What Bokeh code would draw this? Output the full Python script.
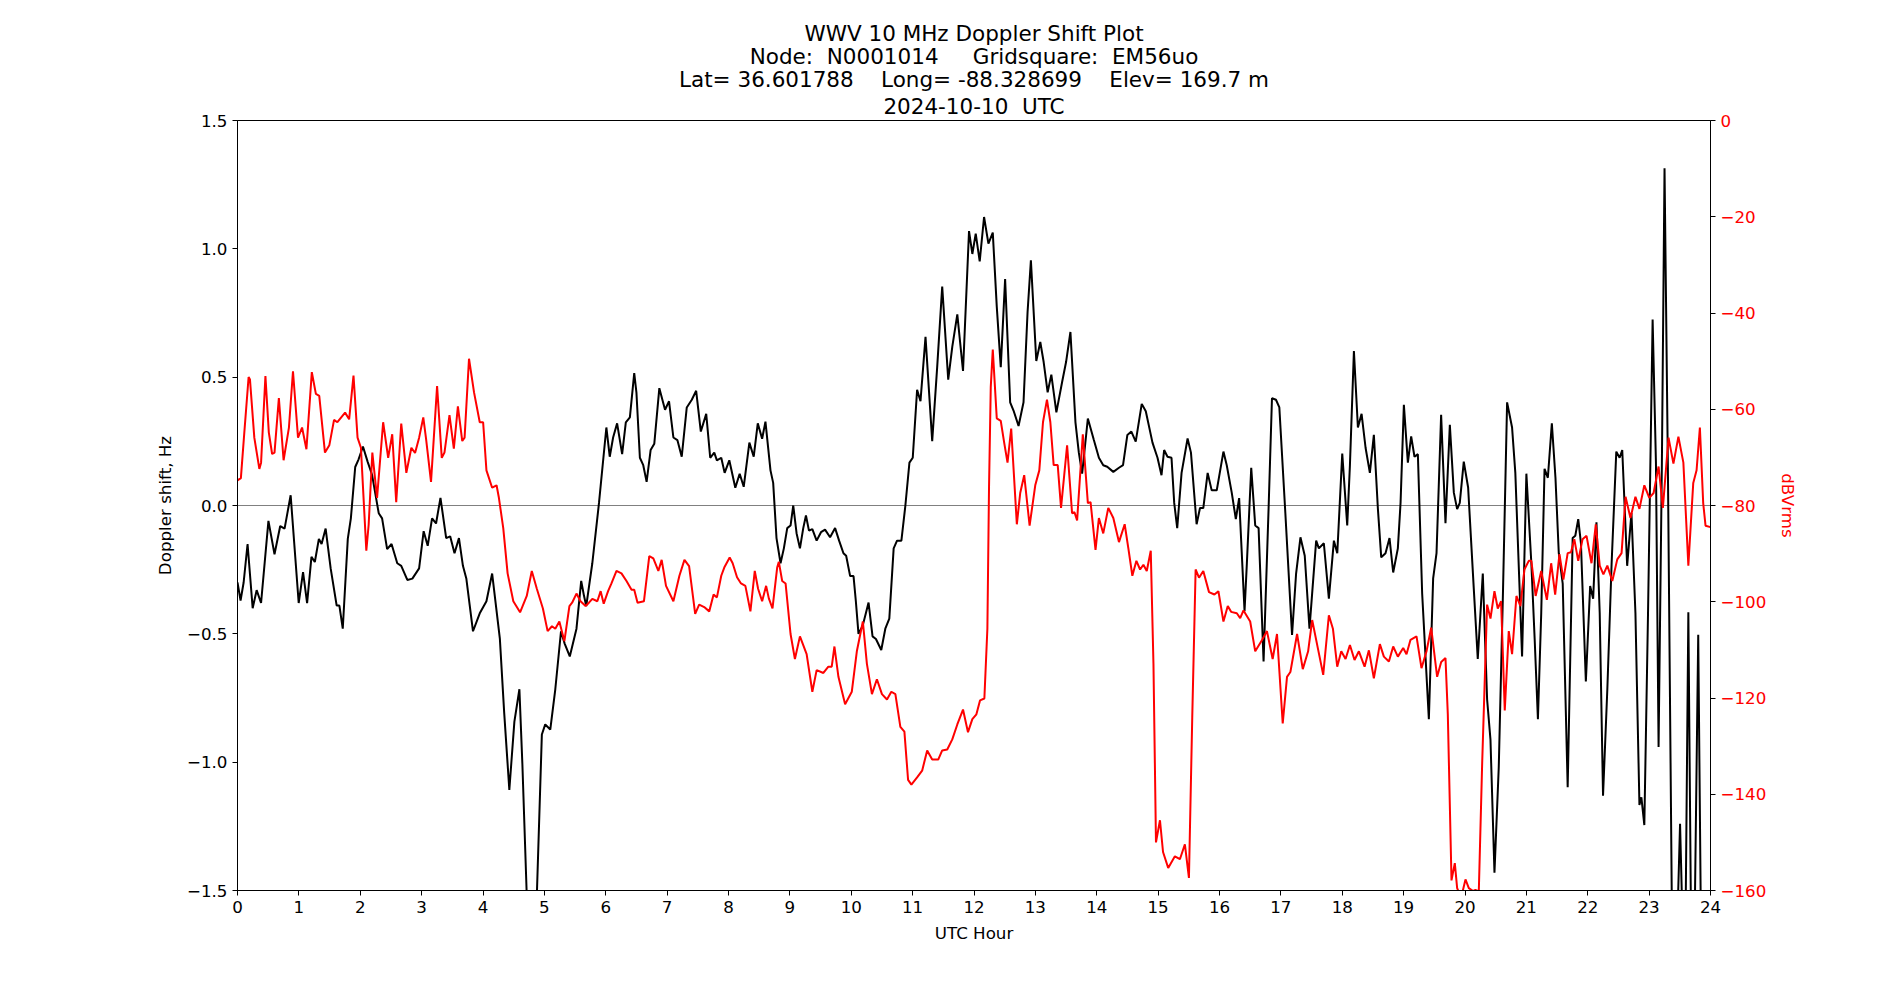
from bokeh.plotting import figure
from bokeh.models import (Range1d, LinearAxis, FixedTicker, CustomJSTickFormatter,
                          Span, Title)
from bokeh.embed import file_html
from bokeh.resources import INLINE

# Doppler shift trace (Hz) versus UTC hour
doppler_hour = [
    0.0, 0.05, 0.10, 0.164, 0.247, 0.312, 0.384, 0.504, 0.603, 0.696, 0.767, 0.866,
    0.997, 1.068, 1.134, 1.205, 1.26, 1.326, 1.37, 1.436, 1.518, 1.616, 1.66, 1.715,
    1.797, 1.847, 1.918, 1.973, 2.044, 2.121, 2.192, 2.301, 2.356, 2.438, 2.51, 2.603,
    2.668, 2.767, 2.849, 2.959, 3.033, 3.099, 3.17, 3.235, 3.307, 3.40, 3.465, 3.536,
    3.608, 3.673, 3.728, 3.837, 3.947, 4.056, 4.149, 4.275, 4.346, 4.429, 4.511, 4.593,
    4.642, 4.713, 4.795, 4.877, 4.959, 5.014, 5.096, 5.178, 5.271, 5.332, 5.414, 5.523,
    5.60, 5.644, 5.682, 5.781, 5.89, 6.01, 6.065, 6.12, 6.185, 6.267, 6.327, 6.393,
    6.464, 6.50, 6.556, 6.611, 6.666, 6.731, 6.791, 6.873, 6.966, 7.031, 7.102, 7.167,
    7.238, 7.32, 7.402, 7.473, 7.549, 7.637, 7.702, 7.768, 7.811, 7.882, 7.937, 8.013,
    8.111, 8.182, 8.248, 8.34, 8.411, 8.477, 8.548, 8.602, 8.684, 8.728, 8.782, 8.848,
    8.902, 8.957, 9.011, 9.055, 9.109, 9.164, 9.218, 9.262, 9.311, 9.366, 9.436, 9.507,
    9.573, 9.655, 9.737, 9.802, 9.873, 9.917, 9.982, 10.037, 10.075, 10.118, 10.184,
    10.238, 10.282, 10.347, 10.402, 10.489, 10.555, 10.62, 10.691, 10.746, 10.817,
    10.882, 10.948, 11.002, 11.073, 11.128, 11.21, 11.319, 11.40, 11.482, 11.58, 11.646,
    11.728, 11.821, 11.919, 11.973, 12.028, 12.093, 12.164, 12.235, 12.306, 12.371,
    12.436, 12.507, 12.589, 12.644, 12.726, 12.807, 12.873, 12.927, 13.015, 13.08,
    13.135, 13.20, 13.26, 13.342, 13.435, 13.50, 13.571, 13.653, 13.708, 13.762, 13.855,
    13.953, 14.035, 14.106, 14.171, 14.27, 14.362, 14.428, 14.499, 14.564, 14.635,
    14.733, 14.799, 14.908, 14.99, 15.055, 15.098, 15.153, 15.218, 15.262, 15.311,
    15.382, 15.48, 15.535, 15.627, 15.682, 15.736, 15.807, 15.873, 15.955, 16.064,
    16.118, 16.20, 16.266, 16.32, 16.408, 16.446, 16.517, 16.582, 16.637, 16.718, 16.80,
    16.855, 16.92, 16.975, 17.073, 17.182, 17.248, 17.319, 17.389, 17.466, 17.575,
    17.619, 17.70, 17.782, 17.864, 17.919, 18.0, 18.081, 18.125, 18.19, 18.255, 18.315,
    18.38, 18.45, 18.515, 18.58, 18.635, 18.705, 18.77, 18.83, 18.906, 18.95, 19.004,
    19.069, 19.123, 19.177, 19.232, 19.302, 19.411, 19.481, 19.536, 19.611, 19.682,
    19.753, 19.818, 19.872, 19.915, 19.98, 20.051, 20.143, 20.208, 20.29, 20.36, 20.415,
    20.48, 20.55, 20.62, 20.686, 20.767, 20.82, 20.93, 21.0, 21.081, 21.135, 21.188,
    21.242, 21.296, 21.35, 21.415, 21.474, 21.528, 21.592, 21.673, 21.754, 21.797,
    21.845, 21.889, 21.969, 22.039, 22.088, 22.142, 22.195, 22.249, 22.319, 22.389,
    22.465, 22.519, 22.562, 22.642, 22.712, 22.777, 22.842, 22.874, 22.922, 22.982,
    23.057, 23.111, 23.154, 23.208, 23.251, 23.305, 23.369, 23.434, 23.504, 23.542,
    23.585, 23.639, 23.682, 23.73, 23.80, 23.843, 23.88,
]
doppler_hz = [
    -0.30, -0.37, -0.30, -0.15, -0.40, -0.33, -0.38, -0.06, -0.19, -0.08, -0.09, 0.04,
    -0.38, -0.26, -0.38, -0.20, -0.22, -0.13, -0.15, -0.09, -0.245, -0.39, -0.39, -0.48,
    -0.13, -0.05, 0.15, 0.18, 0.23, 0.17, 0.12, -0.03, -0.05, -0.17, -0.15, -0.225,
    -0.235, -0.29, -0.285, -0.245, -0.10, -0.157, -0.05, -0.07, 0.03, -0.127, -0.12, -0.186,
    -0.127, -0.235, -0.284, -0.49, -0.42, -0.373, -0.265, -0.52, -0.81, -1.108, -0.843, -0.716,
    -1.01, -1.52, -1.90, -1.52, -0.892, -0.853, -0.873, -0.716, -0.49, -0.539, -0.588, -0.48,
    -0.294, -0.35, -0.392, -0.225, 0.01, 0.304, 0.19, 0.265, 0.32, 0.20, 0.324, 0.343,
    0.516, 0.44, 0.186, 0.157, 0.092, 0.216, 0.241, 0.457, 0.373, 0.406, 0.265, 0.255,
    0.19, 0.382, 0.412, 0.447, 0.288, 0.357, 0.186, 0.206, 0.176, 0.186, 0.127, 0.176,
    0.069, 0.124, 0.073, 0.245, 0.19, 0.32, 0.26, 0.327, 0.137, 0.088, -0.127, -0.225,
    -0.167, -0.088, -0.078, 0.0, -0.108, -0.167, -0.088, -0.039, -0.098, -0.092, -0.137, -0.104,
    -0.094, -0.124, -0.088, -0.137, -0.186, -0.196, -0.275, -0.275, -0.373, -0.50, -0.47,
    -0.42, -0.378, -0.51, -0.52, -0.563, -0.48, -0.441, -0.167, -0.137, -0.137,
    0.0, 0.167, 0.186, 0.451, 0.406, 0.657, 0.251, 0.539, 0.853, 0.49, 0.618,
    0.745, 0.524, 1.069, 0.98, 1.059, 0.951, 1.124, 1.02, 1.063, 0.775,
    0.539, 0.882, 0.402, 0.37, 0.31, 0.402, 0.755, 0.955, 0.563, 0.637,
    0.559, 0.441, 0.51, 0.363, 0.48, 0.559, 0.676, 0.324, 0.206, 0.124, 0.339,
    0.255, 0.186, 0.157, 0.151, 0.131, 0.147, 0.157, 0.275, 0.288, 0.249,
    0.396, 0.367, 0.245, 0.186, 0.118, 0.216, 0.19, 0.186, 0.01, -0.088,
    0.127, 0.261, 0.206, -0.073, -0.01, -0.01, 0.127, 0.059, 0.059, 0.21,
    0.157, 0.049, -0.053, 0.029, -0.412, -0.225, 0.147, -0.078, -0.088, -0.608, -0.01,
    0.418, 0.412, 0.382, -0.03, -0.504, -0.265, -0.124, -0.196, -0.48, -0.137,
    -0.167, -0.147, -0.363, -0.137, -0.186, 0.202, -0.078, 0.157, 0.602, 0.304, 0.357,
    0.225, 0.127, 0.275, -0.01, -0.202, -0.186, -0.127, -0.261, -0.167, 0.01, 0.392,
    0.167, 0.269, 0.19, 0.20, -0.343, -0.833, -0.284, -0.186, 0.353, -0.069,
    0.314, 0.05, -0.014, 0.01, 0.171, 0.07, -0.324, -0.598, -0.265, -0.755, -0.912,
    -1.431, -1.02, -0.324, 0.402, 0.304, 0.127, -0.588, 0.124, -0.225, -0.52, -0.833,
    -0.42, 0.143, 0.108, 0.32, 0.108, -0.186, -0.304, -1.098, -0.127, -0.118,
    -0.053, -0.147, -0.686, -0.314, -0.363, -0.065, -0.42, -1.131, -0.716, -0.225,
    0.21, 0.186, 0.216, -0.235, -0.029, -0.42, -1.167, -1.137, -1.245, -0.42,
    0.725, 0.167, -0.941, 0.167, 1.314, 0.167, -1.52, -1.85, -1.24, -1.60,
    -1.85, -0.416, -1.60, -1.85, -0.504, -1.60, -1.85,
]

# Received signal level (dBVrms) versus UTC hour
signal_hour = [
    0.0, 0.055, 0.11, 0.181, 0.203, 0.274, 0.356, 0.384, 0.455, 0.51, 0.564, 0.603,
    0.674, 0.751, 0.838, 0.904, 0.986, 1.052, 1.123, 1.211, 1.277, 1.332, 1.425, 1.496,
    1.573, 1.627, 1.753, 1.819, 1.89, 1.956, 2.011, 2.099, 2.137, 2.197, 2.274, 2.373,
    2.455, 2.521, 2.586, 2.668, 2.751, 2.833, 2.893, 2.959, 3.027, 3.071, 3.153, 3.252,
    3.328, 3.372, 3.454, 3.525, 3.591, 3.662, 3.70, 3.772, 3.854, 3.947, 4.002, 4.056,
    4.149, 4.221, 4.259, 4.33, 4.401, 4.494, 4.604, 4.713, 4.795, 4.877, 4.976, 5.053,
    5.124, 5.178, 5.244, 5.326, 5.408, 5.452, 5.523, 5.589, 5.671, 5.726, 5.781, 5.863,
    5.917, 5.967, 6.038, 6.093, 6.175, 6.256, 6.338, 6.42, 6.464, 6.518, 6.622, 6.709,
    6.775, 6.857, 6.911, 6.982, 7.102, 7.20, 7.282, 7.358, 7.457, 7.522, 7.604, 7.686,
    7.757, 7.811, 7.882, 7.931, 8.019, 8.068, 8.139, 8.204, 8.275, 8.357, 8.428, 8.482,
    8.548, 8.613, 8.657, 8.717, 8.793, 8.82, 8.875, 8.93, 9.011, 9.082, 9.164, 9.273,
    9.366, 9.436, 9.546, 9.627, 9.682, 9.726, 9.791, 9.90, 10.009, 10.091, 10.189,
    10.255, 10.337, 10.418, 10.50, 10.582, 10.653, 10.719, 10.80, 10.866, 10.926, 10.98,
    11.073, 11.155, 11.237, 11.319, 11.417, 11.482, 11.564, 11.646, 11.728, 11.821,
    11.902, 11.973, 12.039, 12.098, 12.169, 12.218, 12.245, 12.273, 12.306, 12.371,
    12.436, 12.491, 12.546, 12.606, 12.698, 12.753, 12.818, 12.906, 12.998, 13.064,
    13.124, 13.189, 13.244, 13.298, 13.364, 13.418, 13.517, 13.598, 13.637, 13.68,
    13.773, 13.855, 13.899, 13.98, 14.035, 14.106, 14.188, 14.27, 14.362, 14.455,
    14.515, 14.58, 14.646, 14.706, 14.76, 14.815, 14.88, 14.924, 14.965, 15.03, 15.08,
    15.164, 15.273, 15.355, 15.436, 15.502, 15.556, 15.611, 15.666, 15.736, 15.829,
    15.917, 15.982, 16.064, 16.135, 16.189, 16.282, 16.337, 16.391, 16.5, 16.582,
    16.691, 16.773, 16.866, 16.937, 17.03, 17.1, 17.155, 17.264, 17.357, 17.444, 17.51,
    17.608, 17.69, 17.782, 17.848, 17.918, 17.984, 18.054, 18.125, 18.20, 18.271,
    18.364, 18.434, 18.515, 18.613, 18.678, 18.76, 18.83, 18.906, 18.993, 19.047,
    19.112, 19.21, 19.291, 19.373, 19.449, 19.546, 19.612, 19.682, 19.72, 19.78,
    19.834, 19.872, 19.937, 20.008, 20.062, 20.132, 20.17, 20.225, 20.279, 20.36,
    20.415, 20.48, 20.534, 20.588, 20.648, 20.713, 20.767, 20.838, 20.903, 20.968,
    21.039, 21.081, 21.151, 21.242, 21.334, 21.404, 21.469, 21.539, 21.603, 21.673,
    21.727, 21.781, 21.845, 21.915, 21.98, 22.061, 22.131, 22.195, 22.255, 22.319,
    22.40, 22.481, 22.551, 22.616, 22.696, 22.777, 22.842, 22.922, 23.003, 23.073,
    23.154, 23.224, 23.316, 23.396, 23.477, 23.558, 23.639, 23.719, 23.773, 23.827,
    23.881, 23.919, 24.0,
]
signal_dbv = [
    -74.8, -74.3, -65.0, -53.3, -53.8, -65.9, -72.4, -71.1, -53.1, -64.8, -69.3, -69.0,
    -57.7, -70.6, -63.8, -52.1, -65.9, -63.8, -68.3, -52.3, -56.8, -57.2, -69.0, -67.5,
    -62.2, -62.7, -60.7, -62.1, -53.0, -65.9, -68.0, -89.4, -84.0, -69.0, -78.4, -62.7,
    -70.1, -65.2, -79.3, -63.0, -73.2, -68.0, -69.1, -65.9, -61.7, -66.0, -75.1, -55.2,
    -70.1, -69.0, -61.2, -68.2, -59.4, -66.6, -65.9, -49.5, -56.5, -62.7, -62.7, -72.7,
    -76.3, -75.8, -78.4, -84.7, -94.1, -99.9, -102.2, -98.8, -93.6, -97.3, -101.4, -106.1,
    -105.1, -105.6, -104.1, -108.2, -100.9, -100.2, -98.3, -99.9, -100.9, -100.2, -99.4, -99.9,
    -97.8, -100.4, -97.8, -96.2, -93.6, -94.1, -95.7, -97.5, -97.5, -100.2, -99.9, -90.5,
    -91.0, -93.6, -91.3, -96.7, -99.9, -94.6, -91.3, -92.6, -102.5, -100.6, -101.1, -102.0,
    -98.5, -99.1, -94.6, -92.9, -90.8, -92.0, -94.9, -96.2, -96.7, -102.0, -93.6, -97.3,
    -99.9, -96.7, -99.3, -101.4, -92.9, -91.7, -95.7, -96.2, -106.7, -111.9, -107.2, -110.9,
    -118.7, -114.2, -114.8, -113.5, -113.5, -109.3, -115.6, -121.3, -118.7, -110.3, -104.1,
    -112.9, -119.2, -116.1, -119.2, -120.3, -118.7, -119.2, -126.0, -127.0, -137.0, -138.0,
    -136.5, -135.1, -130.9, -132.8, -132.8, -130.9, -130.7, -128.6, -125.5, -122.4,
    -127.1, -124.4, -123.4, -120.5, -120.1, -105.6, -76.0, -55.4, -47.6, -61.9,
    -62.4, -66.9, -71.1, -64.0, -83.9, -77.4, -73.7, -84.2, -75.8, -72.7,
    -62.7, -58.0, -62.7, -71.6, -71.6, -80.5, -67.5, -81.6, -81.4, -83.1,
    -65.2, -79.5, -79.3, -89.2, -82.6, -85.8, -80.5, -82.6, -87.6, -83.9,
    -88.9, -94.6, -91.5, -93.3, -92.3, -93.6, -89.4, -112.9, -150.0, -145.4, -152.0,
    -155.3, -152.9, -153.5, -150.4, -157.4, -124.0, -93.3, -95.0, -93.6, -98.0,
    -98.5, -97.8, -104.1, -100.9, -102.1, -102.4, -103.4, -101.8, -104.1, -110.3,
    -108.0, -106.1, -111.9, -106.7, -125.3, -115.6, -114.6, -106.7, -114.0, -110.3, -103.8,
    -110.0, -115.2, -102.8, -105.6, -113.5, -110.3, -111.9, -109.0, -112.1, -110.3,
    -113.5, -110.1, -115.9, -108.8, -111.4, -112.4, -109.3, -111.4, -109.6, -110.9,
    -107.9, -107.2, -113.8, -110.3, -105.4, -115.6, -112.5, -111.7, -123.4, -157.9,
    -154.3, -159.5, -161.5, -157.7, -159.5, -160.1, -159.9, -160.2, -133.9, -100.6,
    -103.5, -97.8, -101.4, -99.9, -122.6, -106.1, -110.9, -98.8, -100.9, -93.3,
    -91.5, -91.5, -98.8, -93.6, -99.6, -92.0, -98.5, -90.1, -95.4, -89.9,
    -89.7, -87.0, -91.5, -87.0, -86.3, -92.0, -83.9, -92.5, -94.3, -92.5,
    -95.7, -91.2, -89.9, -78.2, -82.6, -78.2, -80.7, -75.8, -78.4, -77.4,
    -71.9, -80.5, -65.9, -71.3, -65.7, -71.1, -92.5, -75.3, -72.7, -63.8,
    -79.5, -84.2, -84.5,
]

hour_ticks = list(range(0, 25))
doppler_ticks = [-1.5, -1.0, -0.5, 0.0, 0.5, 1.0, 1.5]
dbv_ticks = [0, -20, -40, -60, -80, -100, -120, -140, -160]

title_lines = [
    "WWV 10 MHz Doppler Shift Plot",
    "Node:\u00a0 N0001014\u00a0\u00a0\u00a0\u00a0 Gridsquare:\u00a0 EM56uo",
    "Lat= 36.601788\u00a0\u00a0\u00a0 Long= -88.328699\u00a0\u00a0\u00a0 Elev= 169.7 m",
    "2024-10-10\u00a0 UTC",
]

FONT = "DejaVu Sans"

p = figure(width=1900, height=1000, output_backend="svg", toolbar_location=None,
           title=None,
           x_range=Range1d(0, 24), y_range=Range1d(-1.5, 1.5),
           min_border_left=237, min_border_right=190,
           min_border_top=120, min_border_bottom=110)
p.background_fill_color = "white"
p.border_fill_color = "white"
p.outline_line_color = "black"
p.outline_line_width = 1
p.grid.visible = False

p.extra_y_ranges = {"dbv": Range1d(-160, 0)}

# zero reference line
p.add_layout(Span(location=0, dimension="width", line_color="gray",
                  line_width=1, level="underlay"))

p.line(doppler_hour, doppler_hz, line_color="black", line_width=2)
p.line(signal_hour, signal_dbv, line_color="red", line_width=2, y_range_name="dbv")

right = LinearAxis(y_range_name="dbv")
p.add_layout(right, "right")

minus_fmt1 = CustomJSTickFormatter(code="return tick.toFixed(1).replace('-', '\\u2212');")
minus_fmt0 = CustomJSTickFormatter(code="return tick.toFixed(0).replace('-', '\\u2212');")

xa = p.xaxis[0]
ya = p.yaxis[0]
xa.ticker = FixedTicker(ticks=hour_ticks)
ya.ticker = FixedTicker(ticks=doppler_ticks)
ya.formatter = minus_fmt1
right.ticker = FixedTicker(ticks=dbv_ticks)
right.formatter = minus_fmt0

xa.axis_label = "UTC Hour"
ya.axis_label = "Doppler shift, Hz"
right.axis_label = "dBVrms"

for ax in (xa, ya, right):
    ax.axis_line_color = "black"
    ax.major_tick_line_color = "black"
    ax.minor_tick_line_color = None
    ax.major_tick_out = 5
    ax.major_tick_in = 0
    ax.major_label_standoff = 5
    ax.major_label_text_font = FONT
    ax.major_label_text_font_size = "16.7px"
    ax.major_label_text_color = "black"
    ax.axis_label_text_font = FONT
    ax.axis_label_text_font_size = "16.7px"
    ax.axis_label_text_font_style = "normal"
    ax.axis_label_text_color = "black"
    ax.axis_label_standoff = 9

xa.axis_label_standoff = 7
right.major_label_text_color = "red"
right.axis_label_text_color = "red"


def title_line(text, standoff):
    return Title(text=text, align="center", text_font=FONT, text_font_size="21.5px",
                 text_font_style="normal", text_color="black", standoff=standoff,
                 text_line_height=0.85)


# title panels stack outward from the frame: last line first
for i, line in enumerate(reversed(title_lines)):
    p.add_layout(title_line(line, 4 if i == 0 else -4), "above")

open("out.html", "w").write(file_html(p, INLINE))
